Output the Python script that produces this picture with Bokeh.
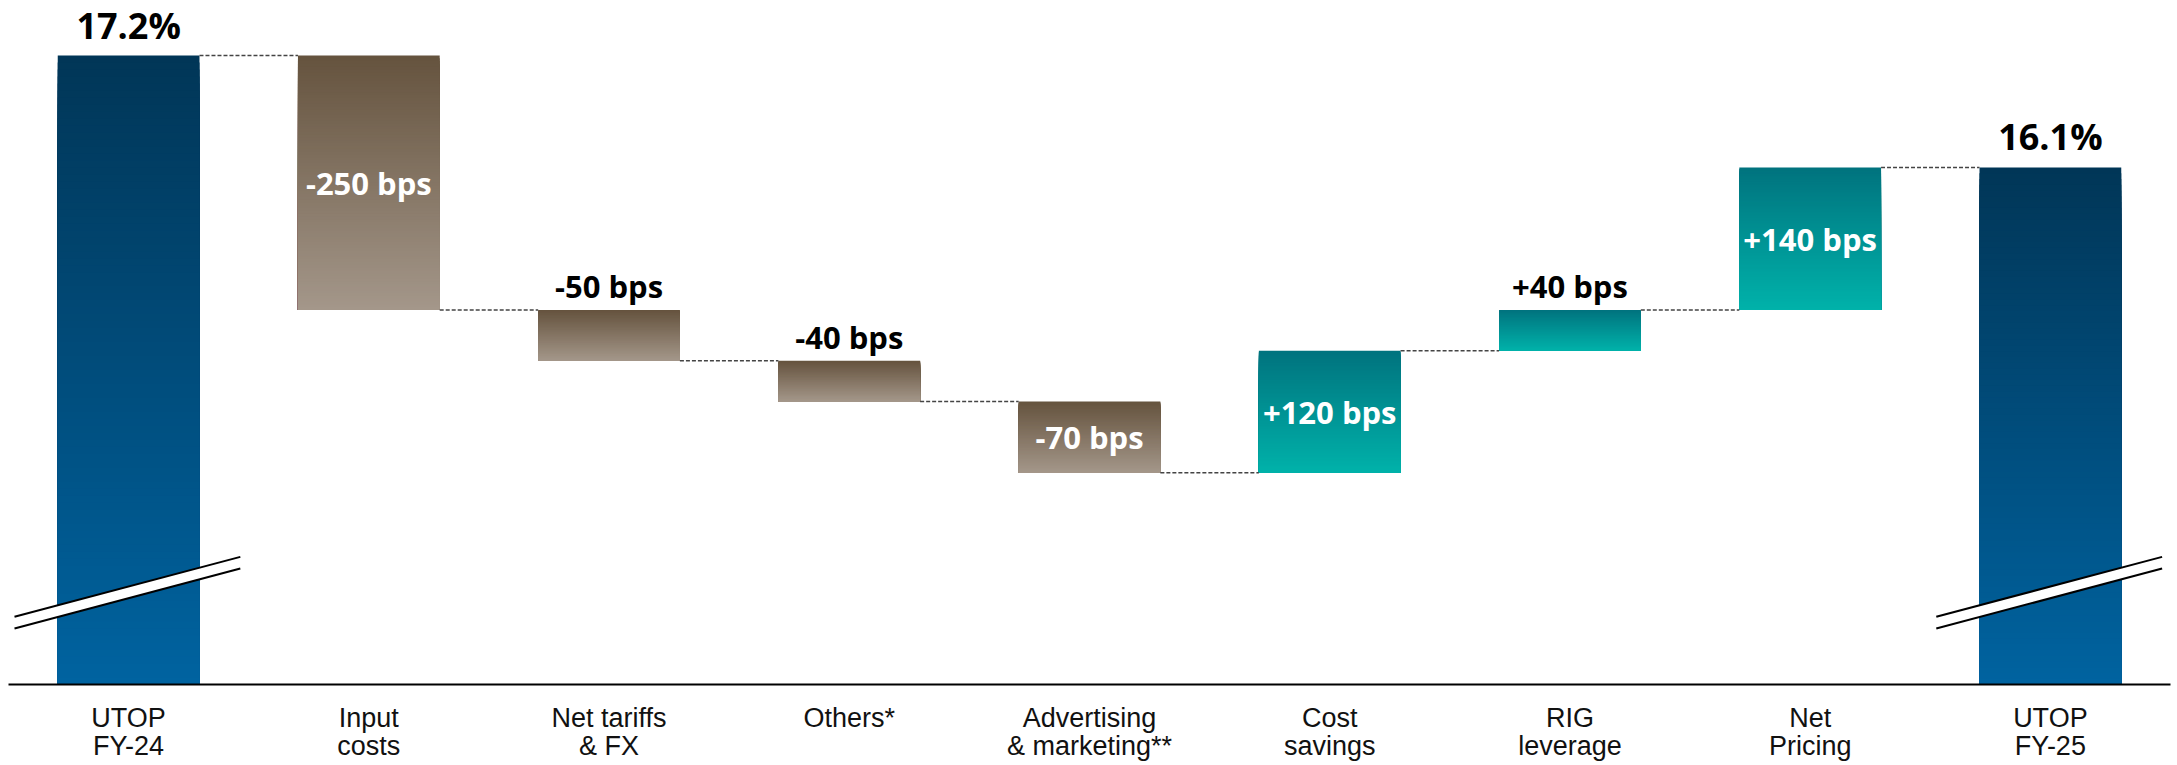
import numpy as np
from bokeh.plotting import figure
from bokeh.models import Range1d, FixedTicker
from bokeh.embed import file_html
from bokeh.resources import INLINE
from bokeh.core.properties import value

# ---------------- data ----------------
categories = ["UTOP\nFY-24", "Input\ncosts", "Net tariffs\n& FX", "Others*",
              "Advertising\n& marketing**", "Cost\nsavings", "RIG\nleverage",
              "Net\nPricing", "UTOP\nFY-25"]
start_pct = 17.2
end_pct = 16.1
deltas_bps = [-250, -50, -40, -70, 120, 40, 140]
axis_floor = 11.02   # value at the (broken) baseline
axis_top = 17.74

# ---------------- styles ----------------
BAR_W = 0.59
GRAD = {
    "total": ((1, 54, 87), (0, 99, 160)),
    "neg": ((101, 83, 62), (164, 151, 138)),
    "pos": ((0, 115, 126), (0, 178, 170)),
}
N_SLICES = 90
FRAME_H = 684
PX = FRAME_H / (axis_top - axis_floor)   # pixels per unit (%)

p = figure(width=2177, height=765, output_backend="svg", toolbar_location=None,
           x_range=Range1d(0, len(categories)), y_range=Range1d(axis_floor, axis_top),
           y_axis_location=None, min_border_left=8, min_border_right=7,
           min_border_top=0, min_border_bottom=81)
p.outline_line_color = None
p.grid.visible = False
p.background_fill_color = "white"
p.border_fill_color = "white"

# build bars
bars = []  # (x, bottom, top, kind)
bars.append((0.5, axis_floor, start_pct, "total"))
level = start_pct
levels = [start_pct]
for i, d in enumerate(deltas_bps):
    new = level + d / 100.0
    bars.append((i + 1.5, min(level, new), max(level, new), "neg" if d < 0 else "pos"))
    level = new
    levels.append(level)
bars.append((len(categories) - 0.5, axis_floor, end_pct, "total"))

# gradient slices (each slice runs down to the bar bottom; later ones paint over)
L, R, T, B, C = [], [], [], [], []
for (x, b, t, kind) in bars:
    c_top, c_bot = GRAD[kind]
    h = t - b
    for k in range(N_SLICES):
        f = (k + 0.5) / N_SLICES
        col = tuple(int(round(c_top[j] + (c_bot[j] - c_top[j]) * f)) for j in range(3))
        L.append(x - BAR_W / 2); R.append(x + BAR_W / 2)
        T.append(t - k * h / N_SLICES); B.append(b)
        C.append("#%02x%02x%02x" % col)
p.quad(left=L, right=R, top=T, bottom=B, fill_color=C, line_color=None)

# connectors
cx0, cx1, cy = [], [], []
for i in range(len(bars) - 1):
    cx0.append(bars[i][0] + BAR_W / 2)
    cx1.append(bars[i + 1][0] - BAR_W / 2)
    cy.append(levels[min(i, len(levels) - 1)])
p.segment(x0=cx0, y0=cy, x1=cx1, y1=cy, line_color="#444444", line_width=1.5,
          line_dash="4 2")

# axis break marks on total bars
dy_gap = 0.115
for x in (bars[0][0], bars[-1][0]):
    xl, xr = x - 0.475, x + 0.465
    yl, yr = 11.685, 12.274
    p.patch(x=[xl, xr, xr, xl], y=[yl, yr, yr - dy_gap, yl - dy_gap],
            fill_color="white", line_color=None)
    p.line(x=[xl, xr], y=[yl, yr], line_color="black", line_width=2)
    p.line(x=[xl, xr], y=[yl - dy_gap, yr - dy_gap], line_color="black", line_width=2)

# value labels
in_x, in_y, in_t = [], [], []
out_x, out_y, out_t = [], [], []
for i, d in enumerate(deltas_bps):
    x, b, t, kind = bars[i + 1]
    txt = f"{d:+d} bps"
    if abs(d) >= 70:
        in_x.append(x); in_y.append((b + t) / 2); in_t.append(txt)
    else:
        out_x.append(x); out_y.append(t + 24 / PX); out_t.append(txt)

p.text(x=in_x, y=in_y, text=in_t, text_font=value("Open Sans"), text_font_style="bold",
       text_font_size="31px", text_color="white", text_align="center",
       text_baseline="middle")
p.text(x=out_x, y=out_y, text=out_t, text_font=value("Open Sans"), text_font_style="bold",
       text_font_size="31px", text_color="black", text_align="center",
       text_baseline="middle")
p.text(x=[bars[0][0], bars[-1][0]], y=[start_pct + 30 / PX, end_pct + 31 / PX],
       text=[f"{start_pct:.1f}%", f"{end_pct:.1f}%"], text_font=value("Open Sans"),
       text_font_style="bold", text_font_size="36px", text_color="black",
       text_align="center", text_baseline="middle")

# x axis
ticks = [i + 0.5 for i in range(len(categories))]
p.xaxis.ticker = FixedTicker(ticks=ticks)
p.xaxis.major_label_overrides = {t: c for t, c in zip(ticks, categories)}
p.xaxis.axis_line_color = "black"
p.xaxis.axis_line_width = 2
p.xaxis.major_tick_line_color = None
p.xaxis.minor_tick_line_color = None
p.xaxis.major_tick_out = 0
p.xaxis.major_tick_in = 0
p.xaxis.minor_tick_out = 0
p.xaxis.major_label_standoff = 18
p.xaxis.major_label_text_font = "Liberation Sans"
p.xaxis.major_label_text_font_size = "27px"
p.xaxis.major_label_text_color = "#111111"
p.xaxis.major_label_text_line_height = 0.95

open("out.html", "w").write(file_html(p, INLINE))
